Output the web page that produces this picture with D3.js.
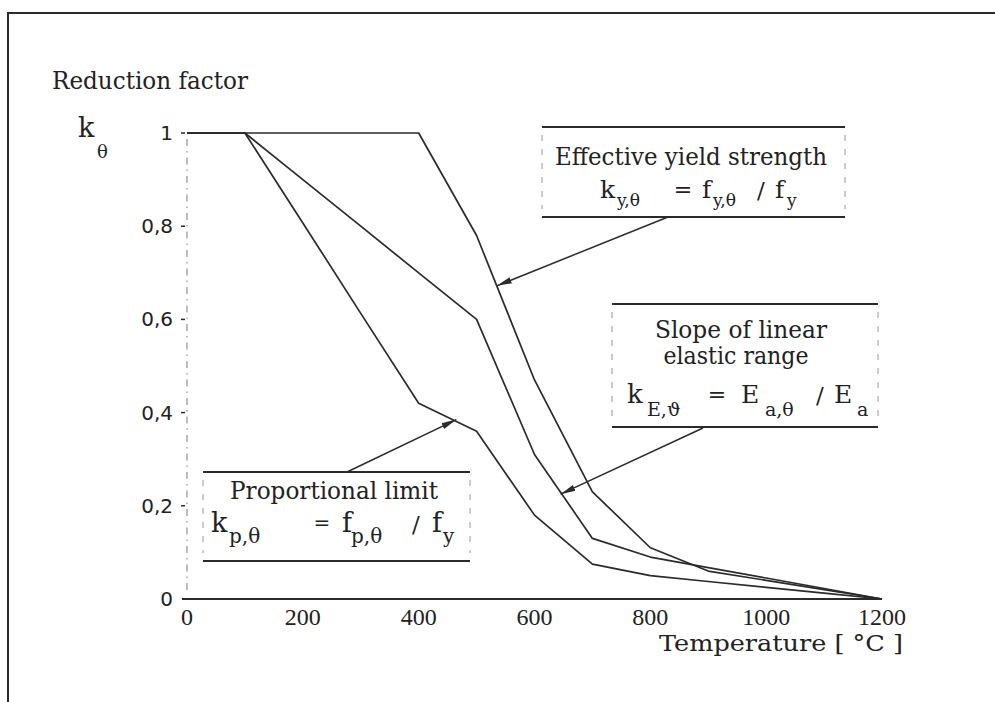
<!DOCTYPE html>
<html>
<head>
<meta charset="utf-8">
<script src="https://cdn.jsdelivr.net/npm/d3@7/dist/d3.min.js"></script>
<style>
  html, body { margin: 0; padding: 0; background: #fff; }
  svg { display: block; }
  text { fill: #222; }
</style>
</head>
<body>
<svg id="chart" width="995" height="702"></svg>
<script>
// ---- data (Eurocode reduction factors for carbon steel at elevated temperature) ----
const temperatures = [0, 100, 200, 300, 400, 500, 600, 700, 800, 900, 1000, 1100, 1200];
const kYield       = [1, 1, 1, 1, 1, 0.78, 0.47, 0.23, 0.11, 0.06, 0.04, 0.02, 0];
const kProp        = [1, 1, 0.807, 0.613, 0.42, 0.36, 0.18, 0.075, 0.05, 0.0375, 0.025, 0.0125, 0];
const kElastic     = [1, 1, 0.9, 0.8, 0.7, 0.6, 0.31, 0.13, 0.09, 0.0675, 0.045, 0.0225, 0];
const xTicks = [0, 200, 400, 600, 800, 1000, 1200];
const yTicks = [0, 0.2, 0.4, 0.6, 0.8, 1];
const yTickLabels = ["0", "0,2", "0,4", "0,6", "0,8", "1"];
// annotation arrow targets (temperature, factor)
const arrowTargets = {
  yield:   [535, 0.672],
  elastic: [645, 0.225],
  prop:    [465, 0.385]
};

const svg = d3.select("#chart");
const ink = "#2b2b2b";
const serif = "'DejaVu Serif', 'Liberation Serif', serif";
const times = "'Liberation Serif', serif";
const sans = "'DejaVu Sans', 'Liberation Sans', sans-serif";

const x = d3.scaleLinear().domain([0, 1200]).range([187, 882]);
const y = d3.scaleLinear().domain([0, 1]).range([599, 133]);

// outer frame (top and left edges)
svg.append("path")
  .attr("d", "M8,702 L8,13 L995,13")
  .attr("fill", "none").attr("stroke", ink).attr("stroke-width", 2);

// y axis (dash-dot, faint)
svg.append("line")
  .attr("x1", x(0)).attr("x2", x(0)).attr("y1", y(1) + 6).attr("y2", y(0) - 4)
  .attr("stroke", "#9a9a9a").attr("stroke-width", 1.3)
  .attr("stroke-dasharray", "7,5,1.5,5");

// y ticks
const yt = svg.append("g");
yTicks.forEach((v, i) => {
  if (v > 0) {
    yt.append("line").attr("x1", x(0) - 6).attr("x2", x(0) - 2)
      .attr("y1", y(v)).attr("y2", y(v)).attr("stroke", ink).attr("stroke-width", 1.5);
  }
  yt.append("text").attr("x", 173).attr("y", y(v) + 7)
    .attr("text-anchor", "end").attr("font-family", sans).attr("font-size", 20)
    .text(yTickLabels[i]);
});

// x axis baseline
svg.append("line")
  .attr("x1", x(0) - 5).attr("x2", x(1200)).attr("y1", y(0)).attr("y2", y(0))
  .attr("stroke", ink).attr("stroke-width", 2.2);

// x tick labels
svg.append("g").selectAll("text").data(xTicks).join("text")
  .attr("x", d => x(d)).attr("y", 625)
  .attr("text-anchor", "middle").attr("font-family", times).attr("font-size", 24)
  .text(d => d);

// axis titles
svg.append("text").attr("x", 52).attr("y", 89)
  .attr("font-family", serif).attr("font-size", 25)
  .attr("textLength", 196).attr("lengthAdjust", "spacingAndGlyphs")
  .text("Reduction factor");
svg.append("text").attr("x", 78).attr("y", 137)
  .attr("font-family", serif).attr("font-size", 27).text("k");
svg.append("text").attr("x", 97).attr("y", 158)
  .attr("font-family", serif).attr("font-size", 18).text("θ");
svg.append("text").attr("x", 903).attr("y", 651)
  .attr("text-anchor", "end").attr("font-family", serif).attr("font-size", 23)
  .attr("textLength", 244).attr("lengthAdjust", "spacingAndGlyphs")
  .text("Temperature [ °C ]");

// curves
const line = d3.line().x(d => x(d[0])).y(d => y(d[1]));
[kYield, kElastic, kProp].forEach(series => {
  svg.append("path")
    .datum(temperatures.map((t, i) => [t, series[i]]))
    .attr("d", line)
    .attr("fill", "none").attr("stroke", ink).attr("stroke-width", 1.7)
    .attr("stroke-linejoin", "round");
});

// arrow marker
svg.append("defs").append("marker")
  .attr("id", "arrow").attr("markerUnits", "userSpaceOnUse")
  .attr("markerWidth", 16).attr("markerHeight", 8)
  .attr("refX", 15).attr("refY", 4).attr("orient", "auto")
  .append("path").attr("d", "M0,0.8 L15,4 L0,7.2 Z").attr("fill", ink);

// annotation boxes
function box(x1, x2, y1, y2) {
  const g = svg.append("g");
  [y1, y2].forEach(yy => g.append("line").attr("x1", x1).attr("x2", x2)
    .attr("y1", yy).attr("y2", yy).attr("stroke", ink).attr("stroke-width", 2.2));
  [x1, x2].forEach(xx => g.append("line").attr("x1", xx).attr("x2", xx)
    .attr("y1", y1 + 8).attr("y2", y2 - 8).attr("stroke", "#a8a8a8")
    .attr("stroke-width", 1.2).attr("stroke-dasharray", "6,8"));
}
function txt(xp, yp, s, size, opts = {}) {
  const t = svg.append("text").attr("x", xp).attr("y", yp)
    .attr("font-family", serif).attr("font-size", size).text(s);
  if (opts.width) t.attr("textLength", opts.width).attr("lengthAdjust", "spacingAndGlyphs");
  if (opts.anchor) t.attr("text-anchor", opts.anchor);
  return t;
}
function arrow(x1, y1, target) {
  svg.append("line").attr("x1", x1).attr("y1", y1)
    .attr("x2", x(target[0])).attr("y2", y(target[1]))
    .attr("stroke", ink).attr("stroke-width", 1.5).attr("marker-end", "url(#arrow)");
}

// Box 1: effective yield strength
box(542, 845, 127, 217);
txt(555, 165, "Effective yield strength", 24, { width: 272 });
txt(600, 198, "k", 25);
txt(617, 206, "y,θ", 17);
txt(683, 197, "=", 22, { anchor: "middle" });
txt(702, 198, "f", 25);
txt(713, 206, "y,θ", 17);
txt(757, 198, "/", 23);
txt(775, 198, "f", 25);
txt(787, 206, "y", 17);
arrow(668, 217, arrowTargets.yield);

// Box 2: slope of linear elastic range
box(612, 878, 304, 427);
txt(741, 338, "Slope of linear", 24, { anchor: "middle", width: 172 });
txt(736, 364, "elastic range", 24, { anchor: "middle", width: 145 });
txt(627, 403, "k", 26);
txt(647, 416, "E,ϑ", 19);
txt(717, 402, "=", 22, { anchor: "middle" });
txt(741, 403, "E", 25);
txt(765, 416, "a,θ", 19);
txt(816, 403, "/", 23);
txt(834, 403, "E", 25);
txt(857, 416, "a", 19);
arrow(703, 428, arrowTargets.elastic);

// Box 3: proportional limit
box(203, 470, 472, 561);
txt(334, 499, "Proportional limit", 24, { anchor: "middle", width: 208 });
txt(211, 532, "k", 27);
txt(229, 543, "p,θ", 20);
txt(322, 530, "=", 20, { anchor: "middle" });
txt(342, 532, "f", 27);
txt(351, 543, "p,θ", 20);
txt(412, 532, "/", 23);
txt(432, 532, "f", 27);
txt(443, 543, "y", 20);
arrow(347, 472, arrowTargets.prop);
</script>
</body>
</html>
